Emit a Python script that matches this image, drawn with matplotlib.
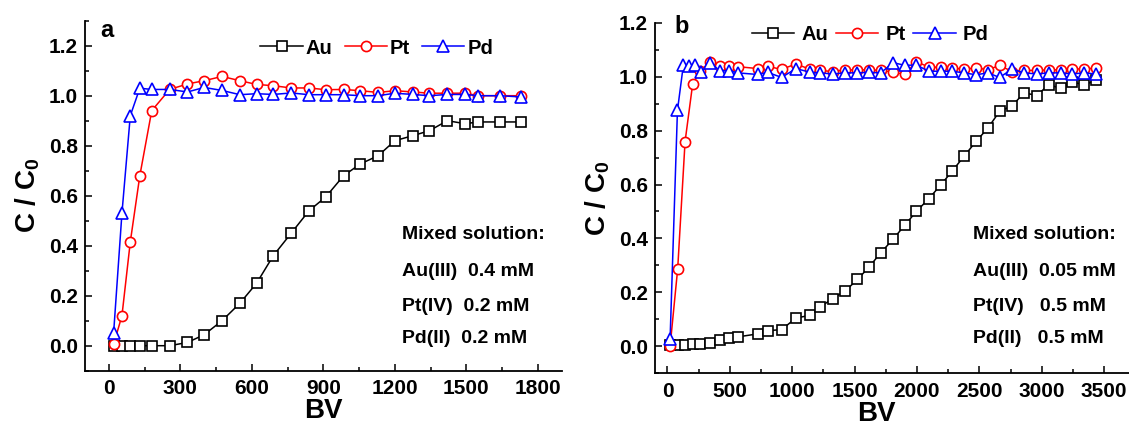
import matplotlib
matplotlib.use("Agg")
import matplotlib.pyplot as plt
from matplotlib.ticker import MultipleLocator

plt.rcParams['font.family'] = ['Liberation Sans', 'DejaVu Sans']
plt.rcParams['font.weight'] = 'bold'
plt.rcParams['mathtext.fontset'] = 'custom'
plt.rcParams['mathtext.rm'] = 'Liberation Sans:bold'
plt.rcParams['mathtext.bf'] = 'Liberation Sans:bold'
plt.rcParams['mathtext.it'] = 'Liberation Sans:bold'

# ---- Panel a: 0.4 mM Au(III), 0.2 mM Pt(IV), 0.2 mM Pd(II) ----
bv_a = [20, 55, 90, 130, 180, 255, 330, 400, 475, 550, 620, 690, 765, 840,
        910, 985, 1055, 1130, 1200, 1275, 1345, 1420, 1495, 1550, 1640, 1730]
au_a = [0.0, 0.0, 0.0, 0.0, 0.0, 0.0, 0.013, 0.044, 0.10, 0.17, 0.25, 0.36,
        0.45, 0.54, 0.595, 0.68, 0.727, 0.76, 0.82, 0.84, 0.86, 0.90, 0.888,
        0.895, 0.895, 0.895]
pt_a = [0.005, 0.12, 0.415, 0.68, 0.94, 1.025, 1.047, 1.06, 1.077, 1.06,
        1.045, 1.04, 1.031, 1.031, 1.024, 1.025, 1.02, 1.013, 1.02, 1.015,
        1.01, 1.01, 1.01, 1.0, 1.0, 1.0]
pd_a = [0.05, 0.53, 0.92, 1.03, 1.025, 1.025, 1.015, 1.033, 1.021, 1.004,
        1.008, 1.005, 1.011, 1.004, 1.004, 1.004, 1.0, 1.0, 1.01, 1.005, 1.0,
        1.005, 1.005, 1.0, 1.0, 0.995]

# ---- Panel b: 0.05 mM Au(III), 0.5 mM Pt(IV), 0.5 mM Pd(II) ----
bv_b = [21, 82, 141, 202, 264, 344, 421, 496, 563, 723, 803, 915, 1030, 1144,
        1222, 1323, 1424, 1523, 1616, 1710, 1808, 1902, 1995, 2096, 2192, 2283,
        2376, 2474, 2570, 2662, 2762, 2860, 2962, 3055, 3151, 3244, 3340, 3436]
au_b = [0.006, 0.006, 0.006, 0.01, 0.01, 0.013, 0.025, 0.031, 0.035, 0.046,
        0.058, 0.062, 0.105, 0.115, 0.145, 0.177, 0.205, 0.248, 0.294, 0.347,
        0.397, 0.449, 0.50, 0.548, 0.599, 0.65, 0.704, 0.76, 0.81, 0.871,
        0.892, 0.94, 0.93, 0.97, 0.957, 0.98, 0.97, 0.986]
pt_b = [0.0, 0.288, 0.759, 0.973, 1.022, 1.055, 1.041, 1.038, 1.037, 1.03,
        1.038, 1.027, 1.047, 1.027, 1.023, 1.019, 1.025, 1.025, 1.025, 1.023,
        1.017, 1.008, 1.056, 1.035, 1.035, 1.033, 1.027, 1.033, 1.025, 1.042,
        1.019, 1.023, 1.023, 1.025, 1.025, 1.03, 1.027, 1.033]
bv_pd_b = [21, 80, 128, 175, 222, 266, 344, 421, 496, 563, 723, 803, 915,
           1030, 1144, 1222, 1323, 1424, 1523, 1616, 1710, 1808, 1902, 1995,
           2096, 2192, 2283, 2376, 2474, 2570, 2662, 2762, 2860, 2962, 3055,
           3151, 3244, 3340, 3436]
pd_b = [0.027, 0.875, 1.045, 1.04, 1.043, 1.016, 1.052, 1.021, 1.022, 1.014,
        1.008, 1.016, 0.997, 1.03, 1.016, 1.014, 1.01, 1.014, 1.014, 1.016,
        1.014, 1.052, 1.042, 1.043, 1.02, 1.02, 1.02, 1.014, 1.007, 1.014,
        0.997, 1.028, 1.014, 1.01, 1.014, 1.014, 1.01, 1.014, 1.01]

notes_a = ["Mixed solution:", "Au(III)  0.4 mM", "Pt(IV)  0.2 mM", "Pd(II)  0.2 mM"]
notes_b = ["Mixed solution:", "Au(III)  0.05 mM", "Pt(IV)   0.5 mM", "Pd(II)   0.5 mM"]

W, H = 1129, 428
fig = plt.figure(figsize=(W / 100, H / 100), dpi=100)
ax_a = fig.add_axes([85 / W, 1 - 370.7 / H, (561.7 - 85) / W, 350 / H])
ax_b = fig.add_axes([655 / W, 1 - 373.3 / H, (1129 - 655) / W, 350.6 / H])


def draw(ax, bv, au, pt, bv_pd, pd):
    kw = dict(lw=1.1, mfc='white', mew=1.2)
    l1, = ax.plot(bv, au, '-s', color='black', ms=7, label='Au', **kw)
    l2, = ax.plot(bv, pt, '-o', color='red', ms=7.3, label='Pt', **kw)
    l3, = ax.plot(bv_pd, pd, '-^', color='blue', ms=8.2, label='Pd', **kw)
    for s in ('top', 'right'):
        ax.spines[s].set_visible(False)
    for s in ('left', 'bottom'):
        ax.spines[s].set_linewidth(1.3)
    ax.tick_params(which='both', direction='in', width=1.1, labelsize=15)
    ax.tick_params(which='major', length=5)
    ax.tick_params(which='minor', length=3)
    ax.tick_params(axis='x', pad=6)
    ax.tick_params(axis='y', pad=5)
    ax.yaxis.set_major_locator(MultipleLocator(0.2))
    ax.yaxis.set_minor_locator(MultipleLocator(0.1))
    ax.set_ylabel('C / C$_0$', fontsize=20, fontweight='bold', labelpad=5)
    return [l1, l2, l3]


h_a = draw(ax_a, bv_a, au_a, pt_a, bv_a, pd_a)
ax_a.set_xlim(-100, 1900)
ax_a.set_ylim(-0.1, 1.3)
ax_a.set_xticks([0, 300, 600, 900, 1200, 1500, 1800])
ax_a.xaxis.set_minor_locator(MultipleLocator(150))
ax_a.set_xlabel('BV', fontsize=20, fontweight='bold', labelpad=0)
ax_a.text(0.031, 0.954, 'a', transform=ax_a.transAxes, fontsize=17,
          fontweight='bold', va='baseline')
ax_a.legend(handles=h_a, ncol=3, frameon=False, loc='center left',
            bbox_to_anchor=(0.368, 0.922), borderaxespad=0, borderpad=0,
            handlelength=2.1, handletextpad=0.15, columnspacing=0.6,
            prop={'size': 14.5, 'weight': 'bold'})
for t, y in zip(notes_a, [0.375, 0.270, 0.170, 0.080]):
    ax_a.text(0.666, y, t, transform=ax_a.transAxes, fontsize=14,
              fontweight='bold', va='baseline')

h_b = draw(ax_b, bv_b, au_b, pt_b, bv_pd_b, pd_b)
ax_b.set_xlim(-100, 3700)
ax_b.set_ylim(-0.1, 1.2)
ax_b.set_xticks([0, 500, 1000, 1500, 2000, 2500, 3000, 3500])
ax_b.xaxis.set_minor_locator(MultipleLocator(250))
ax_b.set_xlabel('BV', fontsize=20, fontweight='bold', labelpad=0)
ax_b.xaxis.set_label_coords(0.468, -0.078)
ax_b.text(0.042, 0.970, 'b', transform=ax_b.transAxes, fontsize=17,
          fontweight='bold', va='baseline')
ax_b.legend(handles=h_b, ncol=3, frameon=False, loc='center left',
            bbox_to_anchor=(0.204, 0.965), borderaxespad=0, borderpad=0,
            handlelength=2.1, handletextpad=0.35, columnspacing=0.4,
            prop={'size': 14.5, 'weight': 'bold'})
for t, y in zip(notes_b, [0.382, 0.277, 0.177, 0.087]):
    ax_b.text(0.6715, y, t, transform=ax_b.transAxes, fontsize=14,
              fontweight='bold', va='baseline')

fig.savefig('out.png', dpi=100)
